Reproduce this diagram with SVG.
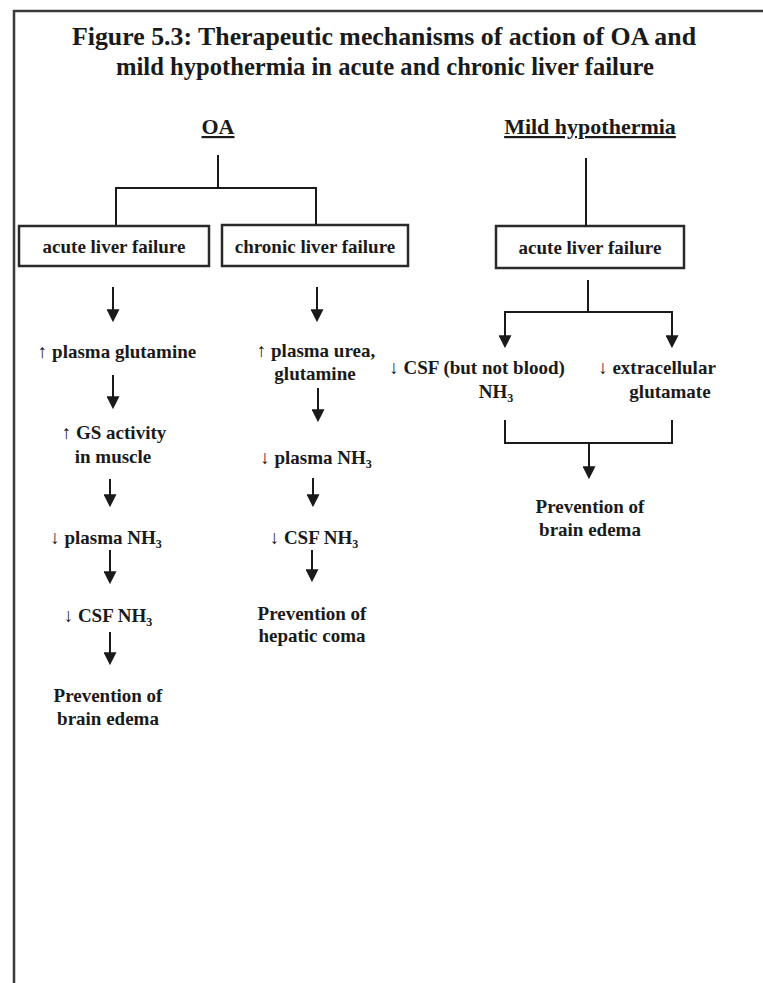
<svg xmlns="http://www.w3.org/2000/svg" width="763" height="983" viewBox="0 0 763 983">
  <style>
    text { font-family: "Liberation Serif", "Times New Roman", serif; font-weight: bold; fill: #1a1a1a; text-anchor: middle; }
    .title { font-size: 25px; }
    .head { font-size: 22px; text-decoration: underline; }
    .lbl { font-size: 19px; }
    .sym { font-weight: normal; }
    .sub { font-size: 12px; }
    .box { fill: #ffffff; stroke: #2a2a2a; stroke-width: 2.5; }
    .line { fill: none; stroke: #1a1a1a; stroke-width: 2; }
    .arrow { fill: none; stroke: #1a1a1a; stroke-width: 2; marker-end: url(#head); }
    .frame { fill: none; stroke: #3a3a3a; stroke-width: 2.5; }
  </style>
  <defs>
    <marker id="head" viewBox="0 0 12 12" refX="10" refY="6" markerWidth="13" markerHeight="13" markerUnits="userSpaceOnUse" orient="auto">
      <path d="M0,0 L12,6 L0,12 Z" fill="#1a1a1a"/>
    </marker>
  </defs>

  <rect width="763" height="983" fill="#ffffff"/>

  <!-- page frame -->
  <path class="frame" d="M14,983 L14,11 L763,11"/>

  <!-- title -->
  <g id="title">
    <text class="title" x="384" y="45" textLength="624" lengthAdjust="spacingAndGlyphs">Figure 5.3: Therapeutic mechanisms of action of OA and</text>
    <text class="title" x="385" y="75" textLength="538" lengthAdjust="spacingAndGlyphs">mild hypothermia in acute and chronic liver failure</text>
  </g>

  <!-- column headings -->
  <g id="oa-head"><text class="head" x="218" y="134">OA</text></g>
  <g id="mh-head"><text class="head" x="590" y="134">Mild hypothermia</text></g>

  <!-- boxed nodes -->
  <g id="oa-acute">
    <rect class="box" x="19" y="226" width="190" height="40"/>
    <text class="lbl" x="114" y="253">acute liver failure</text>
  </g>
  <g id="oa-chronic">
    <rect class="box" x="222" y="225" width="186" height="41"/>
    <text class="lbl" x="315" y="253">chronic liver failure</text>
  </g>
  <g id="mh-acute">
    <rect class="box" x="496" y="226" width="188" height="42"/>
    <text class="lbl" x="590" y="254">acute liver failure</text>
  </g>

  <!-- OA acute chain -->
  <g id="a1"><text class="lbl" x="117" y="358"><tspan class="sym">↑</tspan> plasma glutamine</text></g>
  <g id="a2">
    <text class="lbl" x="114" y="439"><tspan class="sym">↑</tspan> GS activity</text>
    <text class="lbl" x="113" y="463">in muscle</text>
  </g>
  <g id="a3"><text class="lbl" x="106" y="544"><tspan class="sym">↓</tspan> plasma NH<tspan class="sub" dy="4">3</tspan></text></g>
  <g id="a4"><text class="lbl" x="108" y="622"><tspan class="sym">↓</tspan> CSF NH<tspan class="sub" dy="4">3</tspan></text></g>
  <g id="a5">
    <text class="lbl" x="108" y="702">Prevention of</text>
    <text class="lbl" x="108" y="725">brain edema</text>
  </g>

  <!-- OA chronic chain -->
  <g id="c1">
    <text class="lbl" x="316" y="357"><tspan class="sym">↑</tspan> plasma urea,</text>
    <text class="lbl" x="315" y="380">glutamine</text>
  </g>
  <g id="c2"><text class="lbl" x="316" y="464"><tspan class="sym">↓</tspan> plasma NH<tspan class="sub" dy="4">3</tspan></text></g>
  <g id="c3"><text class="lbl" x="314" y="544"><tspan class="sym">↓</tspan> CSF NH<tspan class="sub" dy="4">3</tspan></text></g>
  <g id="c4">
    <text class="lbl" x="312" y="620">Prevention of</text>
    <text class="lbl" x="312" y="642">hepatic coma</text>
  </g>

  <!-- hypothermia chain -->
  <g id="h1">
    <text class="lbl" x="477" y="374"><tspan class="sym">↓</tspan> CSF (but not blood)</text>
    <text class="lbl" x="496" y="398">NH<tspan class="sub" dy="4">3</tspan></text>
  </g>
  <g id="h2">
    <text class="lbl" x="657" y="374"><tspan class="sym">↓</tspan> extracellular</text>
    <text class="lbl" x="670" y="398">glutamate</text>
  </g>
  <g id="h3">
    <text class="lbl" x="590" y="513">Prevention of</text>
    <text class="lbl" x="590" y="536">brain edema</text>
  </g>

  <!-- connectors -->
  <g id="connectors">
    <!-- OA split -->
    <path class="line" d="M218,155 L218,188 M116,188 L316,188 M116,187 L116,225 M316,187 L316,225"/>
    <!-- hypothermia stem -->
    <path class="line" d="M586,158 L586,226"/>
    <!-- OA acute arrows -->
    <path class="arrow" d="M113,287 L113,320"/>
    <path class="arrow" d="M113,375 L113,407"/>
    <path class="arrow" d="M110,479 L110,505"/>
    <path class="arrow" d="M110,550 L110,582"/>
    <path class="arrow" d="M110,632 L110,663"/>
    <!-- OA chronic arrows -->
    <path class="arrow" d="M317,287 L317,320"/>
    <path class="arrow" d="M318,388 L318,420"/>
    <path class="arrow" d="M313,478 L313,505"/>
    <path class="arrow" d="M312,550 L312,580"/>
    <!-- hypothermia split -->
    <path class="line" d="M588,280 L588,312"/>
    <path class="arrow" d="M505,312 L672,312 L672,346"/>
    <path class="arrow" d="M588,312 L505,312 L505,346"/>
    <!-- hypothermia merge -->
    <path class="line" d="M505,420 L505,443 L672,443 L672,420"/>
    <path class="arrow" d="M589,443 L589,477"/>
  </g>
</svg>
